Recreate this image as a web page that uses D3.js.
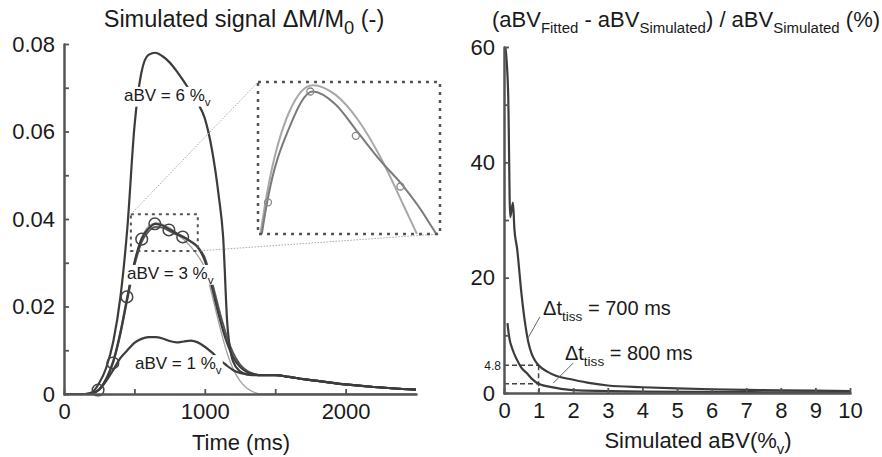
<!DOCTYPE html>
<html>
<head>
<meta charset="utf-8">
<script src="https://cdn.jsdelivr.net/npm/d3@7"></script>
<style>
  body { margin: 0; background: #fff; }
  svg { font-family: "Liberation Sans", Arial, sans-serif; }
</style>
</head>
<body>
<script>
'use strict';

// ---- left panel: simulated signal dM/M0 over time (ms) ----
const timeMs =   [0, 150, 200, 250, 300, 350, 400, 450, 500, 550, 600, 650, 700, 750, 800, 850, 900, 950, 1000, 1050, 1100, 1130, 1160, 1200, 1250, 1300, 1350, 1400, 1500, 1600, 1700, 1800, 2000, 2200, 2500];
const signal6 =  [0, 0, 0.0004, 0.0025, 0.006, 0.012, 0.022, 0.038, 0.061, 0.0735, 0.0775, 0.078, 0.0772, 0.0758, 0.0738, 0.0715, 0.069, 0.0665, 0.063, 0.056, 0.045, 0.036, 0.016, 0.0075, 0.0052, 0.0045, 0.0044, 0.0043, 0.0043, 0.0039, 0.0034, 0.003, 0.0022, 0.0016, 0.001];
const signal3 =  [0, 0, 0.0002, 0.0011, 0.0035, 0.0075, 0.014, 0.0222, 0.030, 0.0354, 0.0378, 0.0389, 0.0385, 0.0376, 0.0367, 0.0359, 0.0349, 0.0335, 0.0305, 0.0245, 0.018, 0.0145, 0.0115, 0.0085, 0.0062, 0.005, 0.0045, 0.0043, 0.0043, 0.0039, 0.0034, 0.003, 0.0022, 0.0016, 0.001];
const signal3b = [0, 0, 0.0002, 0.001, 0.0033, 0.0072, 0.0135, 0.0215, 0.0292, 0.0346, 0.0371, 0.0382, 0.038, 0.0372, 0.0364, 0.0357, 0.0348, 0.0337, 0.0312, 0.0258, 0.0195, 0.016, 0.0128, 0.0095, 0.0068, 0.0053, 0.0046, 0.0043, 0.0043, 0.0039, 0.0034, 0.003, 0.0022, 0.0016, 0.001];
const fit3 =     [0, 0, 0.0002, 0.0011, 0.0036, 0.0077, 0.0143, 0.0225, 0.0303, 0.0357, 0.0383, 0.0391, 0.0388, 0.038, 0.0368, 0.0353, 0.0337, 0.0316, 0.0288, 0.0228, 0.0162, 0.0125, 0.0092, 0.0058, 0.003, 0.0013, 0.0004, 0, 0, 0, 0, 0, 0, 0, 0];
const signal1 =  [0, 0, 0.0002, 0.001, 0.003, 0.0055, 0.0082, 0.01, 0.0117, 0.0126, 0.013, 0.013, 0.0127, 0.0121, 0.0118, 0.012, 0.0122, 0.0118, 0.0108, 0.0095, 0.008, 0.0072, 0.0064, 0.0055, 0.0048, 0.0045, 0.0043, 0.0043, 0.0043, 0.0039, 0.0034, 0.003, 0.0022, 0.0016, 0.001];

// sampled points of the 3 % curve
const sampleMs =     [242, 347, 447, 552, 645, 745, 843];
const sampleSignal = [0.0009, 0.0071, 0.0222, 0.0354, 0.0389, 0.0375, 0.0359];

const signalTicks = [0, 0.01, 0.02, 0.03, 0.04, 0.05, 0.06, 0.07, 0.08];
const timeTicks = [0, 500, 1000, 1500, 2000];

// ---- right panel: relative error of fitted aBV (%) ----
const aBV700 = [0.04, 0.12, 0.18, 0.26, 0.3, 0.38, 0.5, 0.6, 0.7, 0.8, 0.9, 1, 1.25, 1.5, 2, 2.5, 3, 4, 5, 6, 7, 8, 9, 10];
const err700 = [60, 52, 30.5, 33, 28.5, 25, 17.5, 12.5, 8.9, 6.8, 5.6, 4.8, 3.7, 3.0, 2.3, 1.7, 1.3, 1.0, 0.8, 0.65, 0.55, 0.45, 0.4, 0.35];
const aBV800 = [0.1, 0.15, 0.25, 0.38, 0.5, 0.65, 0.8, 1, 1.5, 2, 3, 4, 6, 8, 10];
const err800 = [12.1, 9.7, 7.5, 5.7, 4.4, 3.5, 2.5, 1.6, 0.9, 0.5, 0.35, 0.25, 0.18, 0.12, 0.1];

const errTicks = [0, 10, 20, 30, 40, 50, 60];
const aBVTicks = [0, 1, 2, 3, 4, 5, 6, 7, 8, 9, 10];

(function() {

  let width = 882;
  let height = 457;
  let axisColor = '#555';
  let lineColor = '#3c3c3c';
  let textColor = '#1a1a1a';

  let svgContainer = d3.select('body')
    .append('svg')
    .attr('width', width)
    .attr('height', height);

  let xLeft = d3.scaleLinear().domain([0, 2500]).range([64, 416]);
  let yLeft = d3.scaleLinear().domain([0, 0.08]).range([394, 44]);
  let xRight = d3.scaleLinear().domain([0, 10]).range([504, 850]);
  let yRight = d3.scaleLinear().domain([0, 60]).range([393, 47]);

  // text with subscripts: parts = [[text, isSub], ...]
  function richText(parent, x, y, parts, size, anchor, subRatio) {
    let ratio = subRatio || 0.68;
    let t = parent.append('text')
      .attr('x', x)
      .attr('y', y)
      .attr('fill', textColor)
      .attr('text-anchor', anchor || 'start')
      .style('font-size', size + 'px');
    let shift = 0;
    parts.forEach(function(p) {
      let dy = p[1] ? size * 0.28 : 0;
      t.append('tspan')
        .attr('dy', dy - shift)
        .style('font-size', p[1] ? (size * ratio) + 'px' : null)
        .text(p[0]);
      shift = dy;
    });
    return t;
  }

  function withBackground(parent, textSel) {
    let b = textSel.node().getBBox();
    parent.insert('rect', function() { return textSel.node(); })
      .attr('x', b.x - 1)
      .attr('y', b.y + 1)
      .attr('width', b.width + 2)
      .attr('height', b.height - 2)
      .attr('fill', 'white');
  }

  function styleAxis(g) {
    g.attr('font-size', null).attr('font-family', null);
    g.select('.domain').attr('stroke', axisColor).attr('stroke-width', 2.5).attr('stroke-linecap', 'round');
    g.selectAll('.tick line').attr('stroke', axisColor).attr('stroke-width', 1.8);
    g.selectAll('.tick text').attr('fill', textColor).style('font-size', '22px');
  }

  function makeLine(xs, ys, xScale, yScale) {
    let pts = xs.map((x, i) => [x, ys[i]]);
    return d3.line()
      .x(d => xScale(d[0]))
      .y(d => yScale(d[1]))
      .curve(d3.curveMonotoneX)(pts);
  }

  function plotSignals() {
    let g = svgContainer.append('g');

    g.append('path').attr('d', makeLine(timeMs, fit3, xLeft, yLeft))
      .attr('fill', 'none').attr('stroke', '#a0a0a0').attr('stroke-width', 1.3);
    g.append('path').attr('d', makeLine(timeMs, signal3b, xLeft, yLeft))
      .attr('fill', 'none').attr('stroke', '#555').attr('stroke-width', 1.8);
    [signal6, signal3, signal1].forEach(function(s) {
      g.append('path').attr('d', makeLine(timeMs, s, xLeft, yLeft))
        .attr('fill', 'none').attr('stroke', lineColor).attr('stroke-width', 2.2);
    });

    g.selectAll('.sample')
      .data(sampleMs)
      .enter()
      .append('circle')
      .attr('cx', d => xLeft(d))
      .attr('cy', (d, i) => yLeft(sampleSignal[i]))
      .attr('r', 5.8)
      .attr('fill', 'none')
      .attr('stroke', '#444')
      .attr('stroke-width', 1.5);

    // zoom box on the 3 % peak
    let box = { x0: 475, x1: 950, y0: 0.0327, y1: 0.0411 };
    g.append('rect')
      .attr('x', xLeft(box.x0))
      .attr('y', yLeft(box.y1))
      .attr('width', xLeft(box.x1) - xLeft(box.x0))
      .attr('height', yLeft(box.y0) - yLeft(box.y1))
      .attr('fill', 'none')
      .attr('stroke', '#555')
      .attr('stroke-width', 2)
      .attr('stroke-dasharray', '3,4');

    let inset = { left: 258, top: 82, right: 440, bottom: 234 };
    g.append('line')
      .attr('x1', xLeft(box.x0)).attr('y1', yLeft(box.y1))
      .attr('x2', inset.left).attr('y2', inset.top)
      .attr('stroke', '#a8a8a8').attr('stroke-width', 1).attr('stroke-dasharray', '1.5,1.5');
    g.append('line')
      .attr('x1', xLeft(box.x1)).attr('y1', yLeft(box.y0))
      .attr('x2', inset.right).attr('y2', inset.bottom)
      .attr('stroke', '#a8a8a8').attr('stroke-width', 1).attr('stroke-dasharray', '1.5,1.5');

    // inset: magnified peak of the 3 % curve
    let xIn = d3.scaleLinear().domain([530, 930]).range([inset.left, inset.right]);
    let yIn = d3.scaleLinear().domain([0.0344, 0.0392]).range([inset.bottom, inset.top]);
    svgContainer.append('clipPath').attr('id', 'insetClip')
      .append('rect')
      .attr('x', inset.left).attr('y', inset.top)
      .attr('width', inset.right - inset.left).attr('height', inset.bottom - inset.top);
    let ig = g.append('g').attr('clip-path', 'url(#insetClip)');
    ig.append('rect')
      .attr('x', inset.left).attr('y', inset.top)
      .attr('width', inset.right - inset.left).attr('height', inset.bottom - inset.top)
      .attr('fill', 'white');
    ig.append('path').attr('d', makeLine(timeMs, fit3, xIn, yIn))
      .attr('fill', 'none').attr('stroke', '#a8a8a8').attr('stroke-width', 2);
    ig.append('path').attr('d', makeLine(timeMs, signal3, xIn, yIn))
      .attr('fill', 'none').attr('stroke', '#7a7a7a').attr('stroke-width', 2);
    ig.selectAll('.insample')
      .data(sampleMs)
      .enter()
      .append('circle')
      .attr('cx', d => xIn(d))
      .attr('cy', (d, i) => yIn(sampleSignal[i]))
      .attr('r', 3.5)
      .attr('fill', 'none')
      .attr('stroke', '#888')
      .attr('stroke-width', 1.3);
    g.append('rect')
      .attr('x', inset.left).attr('y', inset.top)
      .attr('width', inset.right - inset.left).attr('height', inset.bottom - inset.top)
      .attr('fill', 'none')
      .attr('stroke', '#555')
      .attr('stroke-width', 2.5)
      .attr('stroke-dasharray', '3,5');

    // curve labels
    [[426, 0.067, '6'], [447, 0.0263, '3'], [504, 0.0057, '1']].forEach(function(l) {
      let t = richText(g, xLeft(l[0]), yLeft(l[1]), [['aBV = ' + l[2] + ' %', false], ['v', true]], 17);
      withBackground(g, t);
    });

    // axes
    let yAxis = d3.axisLeft(yLeft)
      .tickValues(signalTicks)
      .tickSizeInner(-5)
      .tickSizeOuter(0)
      .tickPadding(9)
      .tickFormat(d => {
        let k = Math.round(d * 100);
        if (k % 2 !== 0) return '';
        return k === 0 ? '0' : d3.format('.2f')(d);
      });
    svgContainer.append('g')
      .attr('transform', 'translate(' + xLeft(0) + ',0)')
      .call(yAxis)
      .call(styleAxis);

    let xAxis = d3.axisBottom(xLeft)
      .tickValues(timeTicks)
      .tickSizeInner(-5)
      .tickSizeOuter(0)
      .tickPadding(9)
      .tickFormat(d => d % 1000 === 0 ? d : '');
    svgContainer.append('g')
      .attr('transform', 'translate(0,' + yLeft(0) + ')')
      .call(xAxis)
      .call(styleAxis);
  }

  function plotErrors() {
    let g = svgContainer.append('g');

    // reference dashes at aBV = 1 %
    let dash = [
      [0, 4.8, 1, 4.8],
      [1, 4.8, 1, 0],
      [0, 1.6, 1, 1.6]
    ];
    dash.forEach(function(d) {
      g.append('line')
        .attr('x1', xRight(d[0])).attr('y1', yRight(d[1]))
        .attr('x2', xRight(d[2])).attr('y2', yRight(d[3]))
        .attr('stroke', '#444').attr('stroke-width', 1.5).attr('stroke-dasharray', '5,3');
    });

    g.append('path').attr('d', makeLine(aBV700, err700, xRight, yRight))
      .attr('fill', 'none').attr('stroke', lineColor).attr('stroke-width', 2.2);
    g.append('path').attr('d', makeLine(aBV800, err800, xRight, yRight))
      .attr('fill', 'none').attr('stroke', lineColor).attr('stroke-width', 2.2);

    // leader lines + labels
    [[1.04, 13.2, 0.69, 9.5], [2.0, 5.2, 1.42, 1.7]].forEach(function(d) {
      g.append('line')
        .attr('x1', xRight(d[0])).attr('y1', yRight(d[1]))
        .attr('x2', xRight(d[2])).attr('y2', yRight(d[3]))
        .attr('stroke', '#666').attr('stroke-width', 1);
    });
    richText(g, xRight(1.13), yRight(13.5), [['\u0394t', false], ['tiss', true], [' = 700 ms', false]], 20);
    richText(g, xRight(1.76), yRight(5.7), [['\u0394t', false], ['tiss', true], [' = 800 ms', false]], 20);

    g.append('text')
      .attr('x', xRight(0) - 3)
      .attr('y', yRight(4.8))
      .attr('dy', '0.35em')
      .attr('text-anchor', 'end')
      .attr('fill', textColor)
      .style('font-size', '12px')
      .text('4.8');

    let yAxis = d3.axisLeft(yRight)
      .tickValues(errTicks)
      .tickSizeInner(-5)
      .tickSizeOuter(0)
      .tickPadding(9)
      .tickFormat(d => d % 20 === 0 ? d : '');
    svgContainer.append('g')
      .attr('transform', 'translate(' + xRight(0) + ',0)')
      .call(yAxis)
      .call(styleAxis);

    let xAxis = d3.axisBottom(xRight)
      .tickValues(aBVTicks)
      .tickSizeInner(-5)
      .tickSizeOuter(0)
      .tickPadding(9);
    svgContainer.append('g')
      .attr('transform', 'translate(0,' + yRight(0) + ')')
      .call(xAxis)
      .call(styleAxis);
  }

  function makeLabels() {
    richText(svgContainer, 244, 27,
      [['Simulated signal \u0394M/M', false], ['0', true], [' (-)', false]], 23.5, 'middle', 0.78);
    richText(svgContainer, 686, 27,
      [['(aBV', false], ['Fitted', true], [' - aBV', false], ['Simulated', true],
       [') / aBV', false], ['Simulated', true], [' (%)', false]], 22, 'middle');
    svgContainer.append('text')
      .attr('x', 241).attr('y', 450)
      .attr('text-anchor', 'middle')
      .attr('fill', textColor)
      .style('font-size', '22px')
      .text('Time (ms)');
    richText(svgContainer, 698, 448,
      [['Simulated aBV(%', false], ['v', true], [')', false]], 22, 'middle');
  }

  plotSignals();
  plotErrors();
  makeLabels();

})();
</script>
</body>
</html>
